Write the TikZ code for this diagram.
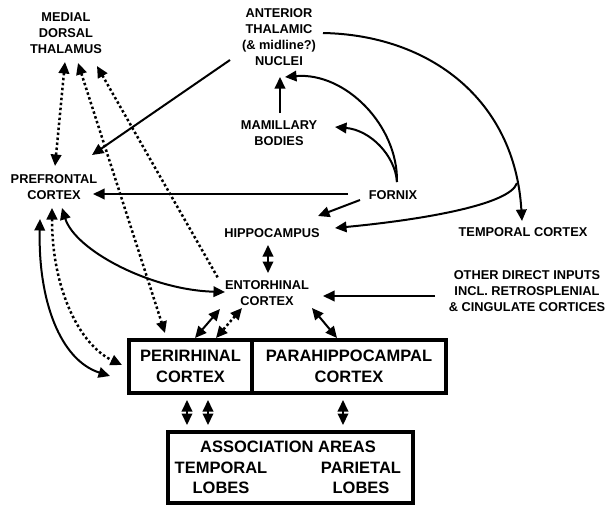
\documentclass[tikz,border=0pt]{standalone}
\usepackage{fontspec}
\setmainfont{Liberation Sans}
\usetikzlibrary{positioning, arrows.meta}

\begin{document}
\begin{tikzpicture}[
  x=1pt, y=-1pt,
  lbl/.style={align=center, inner sep=0pt, font=\fontsize{12.8}{16}\selectfont\bfseries},
  area/.style={draw, line width=3.5pt, inner sep=0pt, outer sep=0pt, align=center, minimum height=53pt, font=\fontsize{16.5}{21}\selectfont\bfseries},
  big/.style={align=center, inner sep=0pt, font=\fontsize{16.5}{20.5}\selectfont\bfseries},
  >={Triangle[length=11.5pt, width=10.5pt]},
  arr/.style={line width=2pt, ->},
  darr/.style={line width=2pt, <->},
  dots/.style={line width=2.5pt, dash pattern=on 2.5pt off 2.5pt},
]
\useasboundingbox (0,0) rectangle (609,506);

\node[lbl] (md) at (66,33) {MEDIAL\\DORSAL\\THALAMUS};
\node[lbl] (at) at (279,37) {ANTERIOR\\THALAMIC\\(\& midline?)\\NUCLEI};
\node[lbl] (mb) at (279,133) {MAMILLARY\\BODIES};
\node[lbl] (pf) at (54,187) {PREFRONTAL\\CORTEX};
\node[lbl] (fx) at (393,195) {FORNIX};
\node[lbl] (hc) at (272,233) {HIPPOCAMPUS};
\node[lbl] (tc) at (523,232) {TEMPORAL CORTEX};
\node[lbl] (ec) at (267,293) {ENTORHINAL\\CORTEX};
\node[lbl] (oi) at (527,291) {OTHER DIRECT INPUTS\\INCL. RETROSPLENIAL\\\& CINGULATE CORTICES};

\node[area, minimum width=123pt] (pr) at (190.5,366.5) {PERIRHINAL\\CORTEX};
\node[area, minimum width=194pt, right=0pt of pr] (ph) {PARAHIPPOCAMPAL\\CORTEX};
\node[area, minimum width=245pt, minimum height=71pt] (aa) at (290.5,467.5) {};
\node[big] (aat) at (288,447) {ASSOCIATION AREAS};
\node[big] (tl) at (221,478) {TEMPORAL\\LOBES};
\node[big] (pl) at (361,478) {PARIETAL\\LOBES};

% thalamic links
\draw[dots, <->] ([shift={(-1,29)}]md.center) -- ([shift={(1,-21)}]pf.center);
\draw[dots, <->] ([shift={(12,30)}]md.center) -- ([shift={(-25.5,-33.5)}]pr.center);
\draw[dots, <-] ([shift={(31,33)}]md.center) -- ([shift={(-49,-15)}]ec.center);
\draw[arr] ([shift={(-49,23)}]at.center) -- ([shift={(38,-32)}]pf.center);
\draw[arr] ([shift={(1,-20)}]mb.center) -- ([shift={(1,40)}]at.center);

% fornix
\draw[arr] ([shift={(4,-13)}]fx.center) .. controls (395,155) and (370,130) .. ([shift={(56,-6)}]mb.center);
\draw[arr] ([shift={(4,-13)}]fx.center) .. controls (398,125) and (345,72) .. ([shift={(6,40)}]at.center);
\draw[arr] ([shift={(-45,-1)}]fx.center) -- ([shift={(39,7)}]pf.center);
\draw[arr] ([shift={(-33,5)}]fx.center) -- ([shift={(46,-17)}]hc.center);
\draw[arr] ([shift={(44,-4)}]at.center) .. controls (430,35) and (515,100) .. ([shift={(-1,-11)}]tc.center) coordinate[pos=0.89] (br);
\draw[arr] (br) .. controls (510,205) and (420,220) .. ([shift={(63,-5)}]hc.center);

% medial temporal lobe
\draw[darr] ([shift={(-4,12)}]hc.center) -- ([shift={(1,-20)}]ec.center);
\draw[arr] ([shift={(-92,5)}]oi.center) -- ([shift={(56,3)}]ec.center);
\draw[darr] ([shift={(-47,16)}]ec.center) -- ([shift={(66,-2)}]pr.north west);
\draw[dots, <->] ([shift={(-25,15)}]ec.center) -- ([shift={(87,-2)}]pr.north west);
\draw[darr] ([shift={(45,15)}]ec.center) -- ([shift={(85,-2)}]ph.north west);

% prefrontal links
\draw[darr] ([shift={(8,21)}]pf.center) .. controls (75,250) and (150,290) .. ([shift={(-42,-1)}]ec.center);
\draw[darr] ([shift={(-14,32)}]pf.center) .. controls (38,300) and (60,360) .. ([shift={(-19,9.5)}]pr.west);
\draw[dots, <->] ([shift={(-2,21)}]pf.center) .. controls (52,290) and (80,345) .. ([shift={(-7,-1.5)}]pr.west);

% association areas
\draw[darr] ([shift={(58,7)}]pr.south west) -- ([shift={(19,-7)}]aa.north west);
\draw[darr] ([shift={(79,7)}]pr.south west) -- ([shift={(40,-7)}]aa.north west);
\draw[darr] ([shift={(91,7)}]ph.south west) -- ([shift={(175,-7)}]aa.north west);
\end{tikzpicture}
\end{document}
